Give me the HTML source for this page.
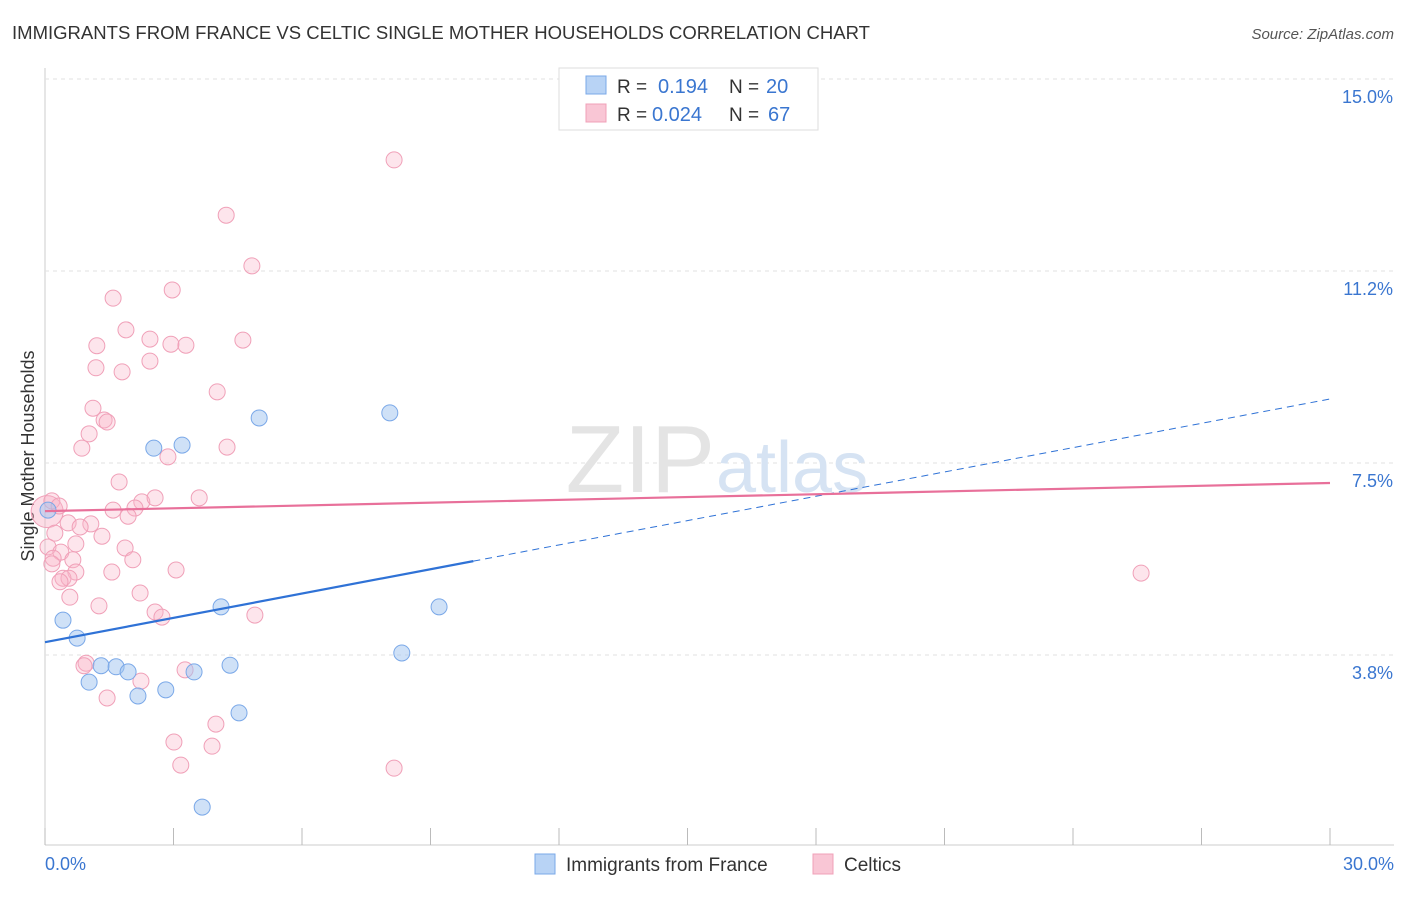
<!DOCTYPE html>
<html><head><meta charset="utf-8"><style>
body{margin:0;background:#fff;font-family:"Liberation Sans",sans-serif;}
svg text{font-family:"Liberation Sans",sans-serif;}
</style></head><body>
<svg id="chart" width="1406" height="892" viewBox="0 0 1406 892" xmlns="http://www.w3.org/2000/svg">
<text x="12" y="39" font-size="18" fill="#333" textLength="858" lengthAdjust="spacingAndGlyphs">IMMIGRANTS FROM FRANCE VS CELTIC SINGLE MOTHER HOUSEHOLDS CORRELATION CHART</text>
<text x="1394" y="39" font-size="15" fill="#555" text-anchor="end" font-style="italic">Source: ZipAtlas.com</text>
<text transform="translate(34,456) rotate(-90)" font-size="18" fill="#333" text-anchor="middle">Single Mother Households</text>
<g id="grid"></g>
<g id="yticks"></g>
<g id="xticks"></g>
<text x="715" y="492" font-size="96" fill="#e4e4e4" text-anchor="end" font-family="Liberation Serif">ZIP</text>
<text x="716" y="492" font-size="72" fill="#d6e3f3">atlas</text>
<g id="pts"></g>
<g id="lines"></g>
<g>
<rect x="559" y="68" width="259" height="62" fill="#fff" stroke="#ddd"/>
<rect x="586" y="76" width="20" height="18" fill="#b8d3f5" stroke="#7aa8e8"/>
<rect x="586" y="104" width="20" height="18" fill="#f9c6d5" stroke="#f0a0b8"/>
<text x="617" y="93" font-size="19" fill="#333">R =</text>
<text x="658" y="93" font-size="20" fill="#3a76d0">0.194</text>
<text x="729" y="93" font-size="19" fill="#333">N =</text>
<text x="766" y="93" font-size="20" fill="#3a76d0">20</text>
<text x="617" y="121" font-size="19" fill="#333">R =</text>
<text x="652" y="121" font-size="20" fill="#3a76d0">0.024</text>
<text x="729" y="121" font-size="19" fill="#333">N =</text>
<text x="768" y="121" font-size="20" fill="#3a76d0">67</text>
</g>
<g>
<rect x="535" y="854" width="20" height="20" fill="#b8d3f5" stroke="#7aa8e8"/>
<text x="566" y="871" font-size="19" fill="#333">Immigrants from France</text>
<rect x="813" y="854" width="20" height="20" fill="#f9c6d5" stroke="#f0a0b8"/>
<text x="844" y="871" font-size="19" fill="#333">Celtics</text>
</g>
</svg>
<script>
const xTickVals=[0,3,6,9,12,15,18,21,24,27,30];
const yTickVals=[3.75,7.5,11.25,15];
const yTickLabels=["3.8%","7.5%","11.2%","15.0%"];
const xEndLabels=["0.0%","30.0%"];
const franceX=[0.42,0.75,1.03,1.31,1.66,1.94,2.17,2.54,2.82,3.20,3.48,3.67,4.11,4.32,4.53,5.00,8.05,8.33,9.20,0.07];
const franceY=[4.43,4.08,3.22,3.54,3.52,3.42,2.95,7.79,3.07,7.85,3.42,0.78,4.69,3.55,2.62,8.38,8.48,3.79,4.69,6.58];
const celticX=[8.15,4.23,4.83,2.97,1.59,1.89,2.45,2.94,3.29,4.62,1.21,2.45,1.19,1.80,4.02,1.12,1.38,1.45,1.03,0.86,4.25,2.87,1.73,0.16,0.33,2.26,2.57,3.60,1.59,2.10,1.94,0.54,1.07,0.82,0.23,1.33,0.72,0.07,1.87,0.37,0.19,0.65,2.05,0.16,0.72,1.56,3.06,0.42,0.56,0.35,0.58,2.22,1.26,2.57,2.73,4.90,0.96,0.91,3.27,2.24,1.45,3.99,3.01,3.90,3.17,8.15,25.59];
const celticY=[13.42,12.34,11.35,10.88,10.72,10.10,9.92,9.82,9.80,9.90,9.79,9.49,9.36,9.28,8.89,8.57,8.34,8.30,8.07,7.79,7.81,7.62,7.13,6.76,6.66,6.74,6.82,6.82,6.58,6.62,6.46,6.33,6.31,6.25,6.13,6.07,5.92,5.86,5.84,5.76,5.64,5.61,5.61,5.53,5.37,5.37,5.41,5.25,5.25,5.18,4.88,4.96,4.71,4.59,4.49,4.53,3.59,3.54,3.46,3.24,2.91,2.40,2.05,1.97,1.60,1.54,5.35];
const franceTrend=[4.00,8.75];
const celticTrend=[6.56,7.11];
const NS="http://www.w3.org/2000/svg";
const X=v=>45+v/30*1285;
const Y=v=>847-v/3.75*192;
function mk(tag,attrs,parent){const e=document.createElementNS(NS,tag);for(const k in attrs)e.setAttribute(k,attrs[k]);document.getElementById(parent).appendChild(e);return e;}
let ax=mk('line',{x1:45,y1:68,x2:45,y2:845,stroke:'#ccc'},'grid');


let bx=mk('line',{x1:45,y1:845,x2:1394,y2:845,stroke:'#ccc'},'grid');


yTickVals.forEach((v,i)=>{
 const g=mk('line',{x1:45,y1:Y(v),x2:1394,y2:Y(v),stroke:'#e2e2e2','stroke-dasharray':'4,4'},'grid');
 
 
 const t=mk('text',{x:1393,y:Y(v)+24,'font-size':18,fill:'#3a76d0','text-anchor':'end'},'yticks');
 t.textContent=yTickLabels[i];
 
 
});
xTickVals.forEach(v=>{
 const l=mk('line',{x1:X(v),y1:828,x2:X(v),y2:845,stroke:'#bbb'},'xticks');
 
 
});
[[0,'start',45],[30,'end',1394]].forEach((a,i)=>{
 const t=mk('text',{x:a[2],y:870,'font-size':18,fill:'#3a76d0','text-anchor':a[1]},'xticks');
 t.textContent=xEndLabels[i];
 
 
});
let big=mk('circle',{cx:X(0.05),cy:Y(6.55),r:16,fill:'rgba(248,180,200,0.45)',stroke:'#f0a0b8'},'pts');


celticX.forEach((x,i)=>{
 const c=mk('circle',{cx:X(x),cy:Y(celticY[i]),r:8,fill:'rgba(248,180,200,0.35)',stroke:'#f0a0b8','stroke-width':1},'pts');
 
 
});
franceX.forEach((x,i)=>{
 const c=mk('circle',{cx:X(x),cy:Y(franceY[i]),r:8,fill:'rgba(160,195,240,0.5)',stroke:'#7aa8e8','stroke-width':1},'pts');
 
 
});
const fy=x=>franceTrend[0]+(franceTrend[1]-franceTrend[0])*x/30;
let l1=mk('line',{x1:X(0),y1:Y(fy(0)),x2:X(10),y2:Y(fy(10)),stroke:'#2f72d6','stroke-width':2.2},'lines');


let l2=mk('line',{x1:X(10),y1:Y(fy(10)),x2:X(30),y2:Y(fy(30)),stroke:'#2f72d6','stroke-width':1,'stroke-dasharray':'7,5'},'lines');


let l3=mk('line',{x1:X(0),y1:Y(celticTrend[0]),x2:X(30),y2:Y(celticTrend[1]),stroke:'#e8709a','stroke-width':2.2},'lines');


</script>
</body></html>
